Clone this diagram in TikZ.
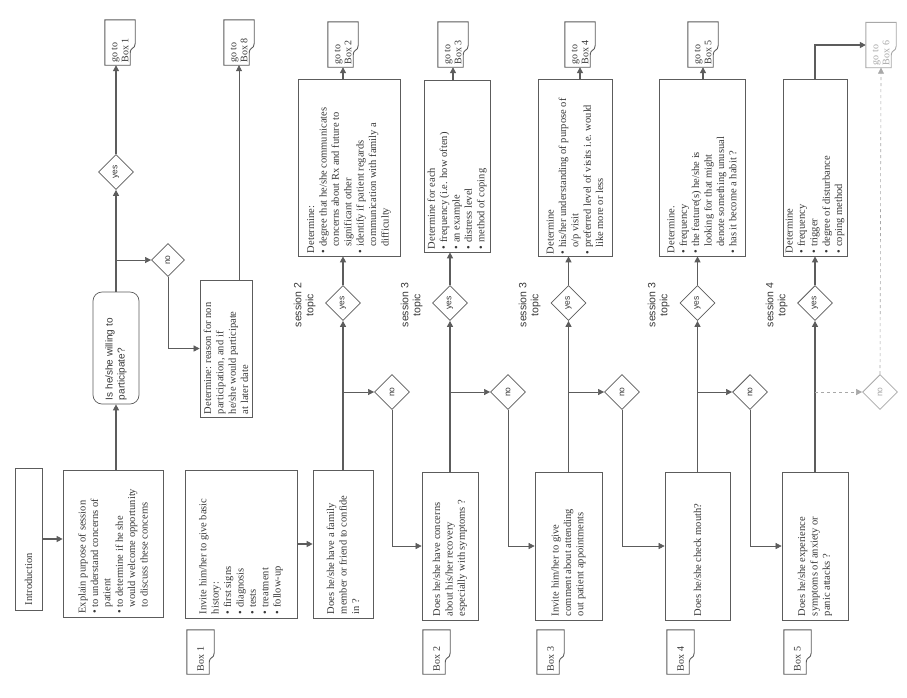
\documentclass[tikz,border=0pt]{standalone}
\usepackage{fontspec}
\setmainfont{Liberation Serif}
\newfontfamily\sansfam{Liberation Sans}
\usetikzlibrary{shapes.geometric,arrows.meta,calc}
\definecolor{lc}{gray}{0.36}
\definecolor{tc}{gray}{0.22}
\definecolor{fadec}{gray}{0.66}
% rotated, ragged-right text block of the given width (in pt)
\newcommand\rt[2]{\rotatebox{90}{\parbox{#1pt}{\raggedright #2}}}
\newcommand\bul{\textbullet\ }
\newcommand\ind{\hspace*{0.6em}}
% document-like outline with a bent right edge around a named node
\newcommand\docframe[2][lc]{\draw[draw=#1, line width=0.9pt]
  (#2.north west) -- (#2.north east) -- ([yshift=-1pt]#2.east)
  .. controls ([yshift=-7pt]#2.east) and ([xshift=-5pt,yshift=-4pt]#2.east)
  .. ([xshift=-5pt,yshift=-11pt]#2.east) -- ([xshift=-5pt]#2.south east)
  -- (#2.south west) -- cycle;}
\tikzset{
  ln/.style={draw=lc, line width=1.2pt},
  thinln/.style={draw=lc, line width=0.6pt},
  arr/.style={-{Triangle[length=6pt,width=6pt]}},
  box/.style={draw=lc, line width=0.7pt, rectangle, inner sep=0pt, text=tc,
    font=\fontsize{10.5}{12.4}\selectfont},
  gob/.style={rectangle, inner sep=0pt, minimum width=30pt, minimum height=45pt,
    text=tc, font=\fontsize{10}{11}\selectfont},
  dia/.style={diamond, draw=lc, line width=0.8pt, aspect=1, inner sep=0pt,
    minimum size=35pt, text=tc, font=\sansfam\fontsize{8.5}{9}\selectfont},
  sess/.style={text=tc, align=center, inner sep=0pt,
    font=\sansfam\fontsize{10.5}{12}\selectfont},
}
\begin{document}
\begin{tikzpicture}[x=1pt,y=-1pt]
\fill[white] (0,0) rectangle (907,697);
\useasboundingbox (0,0) rectangle (907,697);

% ---------- introduction and consent ----------
\node[box, minimum width=27pt, minimum height=142pt] (intro) at (28.5,539)
  {\rt{132}{Introduction}};
\node[box, minimum width=100pt, minimum height=147pt] (explain) at (113,544)
  {\rt{139}{Explain purpose of session\\ \bul to understand concerns of\\ \ind patient\\
   \bul to determine if he she\\ \ind would welcome opportunity\\ \ind to discuss these concerns}};
\node[box, rounded corners=9pt, minimum width=46pt, minimum height=112pt,
  font=\sansfam\fontsize{10}{12}\selectfont] (q0) at (116,348)
  {\rt{104}{Is he/she willing to\\participate?}};
\node[dia] (yes0) at (116,172) {\rotatebox{90}{yes}};
\node[dia, minimum size=33pt] (no0) at (168,260) {\rotatebox{90}{no}};
\node[gob] (goto1) at (120,42.5) {\rt{40}{go to\\Box 1}};
\docframe{goto1}
\node[box, minimum width=52pt, minimum height=137pt] (det0) at (226,348.5)
  {\rt{131}{Determine: reason for non\\participation, and if\\he/she would participate\\at later date}};
\node[gob] (goto8) at (239,42.5) {\rt{40}{go to\\Box 8}};
\docframe{goto8}
\coordinate (b0) at (116,260);

\draw[ln,arr] (intro.east) -- (intro.east -| explain.west);
\draw[ln,arr] (q0.south |- explain.north) -- (q0.south);
\draw[ln,arr] (q0.north) -- (yes0.south);
\draw[ln,arr] (yes0.north) -- (yes0.north |- goto1.south);
\draw[thinln,arr] (b0) -- (no0.west);
\draw[thinln,arr] (no0.south) |- (det0.west);
\draw[thinln,arr] (goto8.south |- det0.north) -- (goto8.south);

% ---------- Box 1 ----------
\node[gob, minimum width=27pt, minimum height=44pt] (lab1) at (200.5,652) {\rt{38}{Box 1}};
\docframe{lab1}
\node[box, minimum width=112pt, minimum height=148pt] (invite) at (241,544)
  {\rt{140}{Invite him/her to give basic\\history:\\ \bul first signs\\ \bul diagnosis\\
   \bul tests\\ \bul treatment\\ \bul follow-up}};
\node[box, minimum width=60pt, minimum height=148pt] (q1) at (343,544)
  {\rt{140}{Does he/she have a family\\member or friend to confide\\in ?}};
\node[dia] (yes1) at (343,303) {\rotatebox{90}{yes}};
\node[sess] (s1) at (305,305) {\rotatebox{90}{\begin{tabular}{@{}c@{}}session 2\\topic\end{tabular}}};
\node[dia] (no1) at (392,392) {\rotatebox{90}{no}};
\node[box, minimum width=102pt, minimum height=177pt] (det1) at (349,167.5)
  {\rt{171}{Determine:\\ \bul degree that he/she communicates\\ \ind concerns about Rx and future to\\
   \ind significant other\\ \bul identify if patient regards\\ \ind communication with family a\\ \ind difficulty}};
\node[gob] (goto2) at (343,44.5) {\rt{40}{go to\\Box 2}};
\docframe{goto2}

\draw[ln,arr] (invite.east) -- (q1.west);
\draw[ln,arr] (q1.north) -- (yes1.south);
\draw[ln,arr] (yes1.north) -- (yes1.north |- det1.south);
\draw[ln,arr] (goto2.south |- det1.north) -- (goto2.south);
\draw[thinln,arr] (yes1 |- no1) -- (no1.west);

% ---------- Box 2 ----------
\node[gob, minimum width=27pt, minimum height=44pt] (lab2) at (436.5,652) {\rt{38}{Box 2}};
\docframe{lab2}
\node[box, minimum width=56pt, minimum height=148pt] (q2) at (450,546)
  {\rt{140}{Does he/she have concerns\\about his/her recovery\\especially with symptoms ?}};
\node[dia] (yes2) at (450,303) {\rotatebox{90}{yes}};
\node[sess] (s2) at (412,305) {\rotatebox{90}{\begin{tabular}{@{}c@{}}session 3\\topic\end{tabular}}};
\node[dia] (no2) at (508,392) {\rotatebox{90}{no}};
\node[box, minimum width=66pt, minimum height=172pt] (det2) at (457,166)
  {\rt{166}{Determine for each\\ \bul frequency (i.e. how often)\\ \bul an example\\ \bul distress level\\ \bul method of coping}};
\node[gob] (goto3) at (453,44.5) {\rt{40}{go to\\Box 3}};
\docframe{goto3}

\draw[thinln,arr] (no1.south) |- (q2.west);
\draw[ln,arr] (q2.north) -- (yes2.south);
\draw[ln,arr] (yes2.north) -- (yes2.north |- det2.south);
\draw[ln,arr] (goto3.south |- det2.north) -- (goto3.south);
\draw[thinln,arr] (yes2 |- no2) -- (no2.west);

% ---------- Box 3 ----------
\node[gob, minimum width=27pt, minimum height=44pt] (lab3) at (550.5,652) {\rt{38}{Box 3}};
\docframe{lab3}
\node[box, minimum width=67pt, minimum height=148pt] (q3) at (568.5,546)
  {\rt{140}{Invite him/her to give\\comment about attending\\out patient appointments}};
\node[dia] (yes3) at (568.5,303) {\rotatebox{90}{yes}};
\node[sess] (s3) at (530,305) {\rotatebox{90}{\begin{tabular}{@{}c@{}}session 3\\topic\end{tabular}}};
\node[dia] (no3) at (622,392) {\rotatebox{90}{no}};
\node[box, minimum width=74pt, minimum height=177pt] (det3) at (575,167.5)
  {\rt{173}{Determine\\ \bul his/her understanding of purpose of\\ \ind o/p visit\\
   \bul preferred level of visits i.e. would\\ \ind like more or less}};
\node[gob] (goto4) at (580,44.5) {\rt{40}{go to\\Box 4}};
\docframe{goto4}

\draw[thinln,arr] (no2.south) |- (q3.west);
\draw[ln,arr] (q3.north) -- (yes3.south);
\draw[ln,arr] (yes3.north) -- (yes3.north |- det3.south);
\draw[ln,arr] (goto4.south |- det3.north) -- (goto4.south);
\draw[thinln,arr] (yes3 |- no3) -- (no3.west);

% ---------- Box 4 ----------
\node[gob, minimum width=27pt, minimum height=44pt] (lab4) at (680.5,652) {\rt{38}{Box 4}};
\docframe{lab4}
\node[box, minimum width=65pt, minimum height=148pt] (q4) at (697.5,546)
  {\rt{140}{Does he/she check mouth?}};
\node[dia] (yes4) at (697.5,303) {\rotatebox{90}{yes}};
\node[sess] (s4) at (659,305) {\rotatebox{90}{\begin{tabular}{@{}c@{}}session 3\\topic\end{tabular}}};
\node[dia] (no4) at (750,392) {\rotatebox{90}{no}};
\node[box, minimum width=86pt, minimum height=177pt] (det4) at (702,167.5)
  {\rt{171}{Determine.\\ \bul frequency\\ \bul the feature(s) he/she is\\ \ind looking for that might\\
   \ind denote something unusual\\ \bul has it become a habit ?}};
\node[gob] (goto5) at (703,44.5) {\rt{40}{go to\\Box 5}};
\docframe{goto5}

\draw[thinln,arr] (no3.south) |- (q4.west);
\draw[ln,arr] (q4.north) -- (yes4.south);
\draw[ln,arr] (yes4.north) -- (yes4.north |- det4.south);
\draw[ln,arr] (goto5.south |- det4.north) -- (goto5.south);
\draw[thinln,arr] (yes4 |- no4) -- (no4.west);

% ---------- Box 5 ----------
\node[gob, minimum width=27pt, minimum height=44pt] (lab5) at (797.5,652) {\rt{38}{Box 5}};
\docframe{lab5}
\node[box, minimum width=66pt, minimum height=148pt] (q5) at (815,546)
  {\rt{140}{Does he/she experience\\symptoms of anxiety or\\panic attacks ?}};
\node[dia] (yes5) at (815,303) {\rotatebox{90}{yes}};
\node[sess] (s5) at (777,305) {\rotatebox{90}{\begin{tabular}{@{}c@{}}session 4\\topic\end{tabular}}};
\node[dia, draw=fadec, text=fadec] (no5) at (880,392) {\rotatebox{90}{no}};
\node[box, minimum width=64pt, minimum height=177pt] (det5) at (815,167.5)
  {\rt{171}{Determine\\ \bul frequency\\ \bul trigger\\ \bul degree of disturbance\\ \bul coping method}};
\node[gob, text=fadec] (goto6) at (881,45) {\rt{40}{go to\\Box 6}};
\docframe[fadec]{goto6}

\draw[thinln,arr] (no4.south) |- (q5.west);
\draw[ln,arr] (q5.north) -- (yes5.south);
\draw[ln,arr] (yes5.north) -- (yes5.north |- det5.south);
\draw[ln,line width=1.6pt,arr] (det5.north) |- (goto6.west);
\draw[draw=fadec, line width=0.6pt, dashed, arr] (yes5 |- no5) -- (no5.west);
\draw[draw=fadec, line width=0.6pt, dashed, arr] (no5.north) -- (goto6.south);
\end{tikzpicture}
\end{document}
